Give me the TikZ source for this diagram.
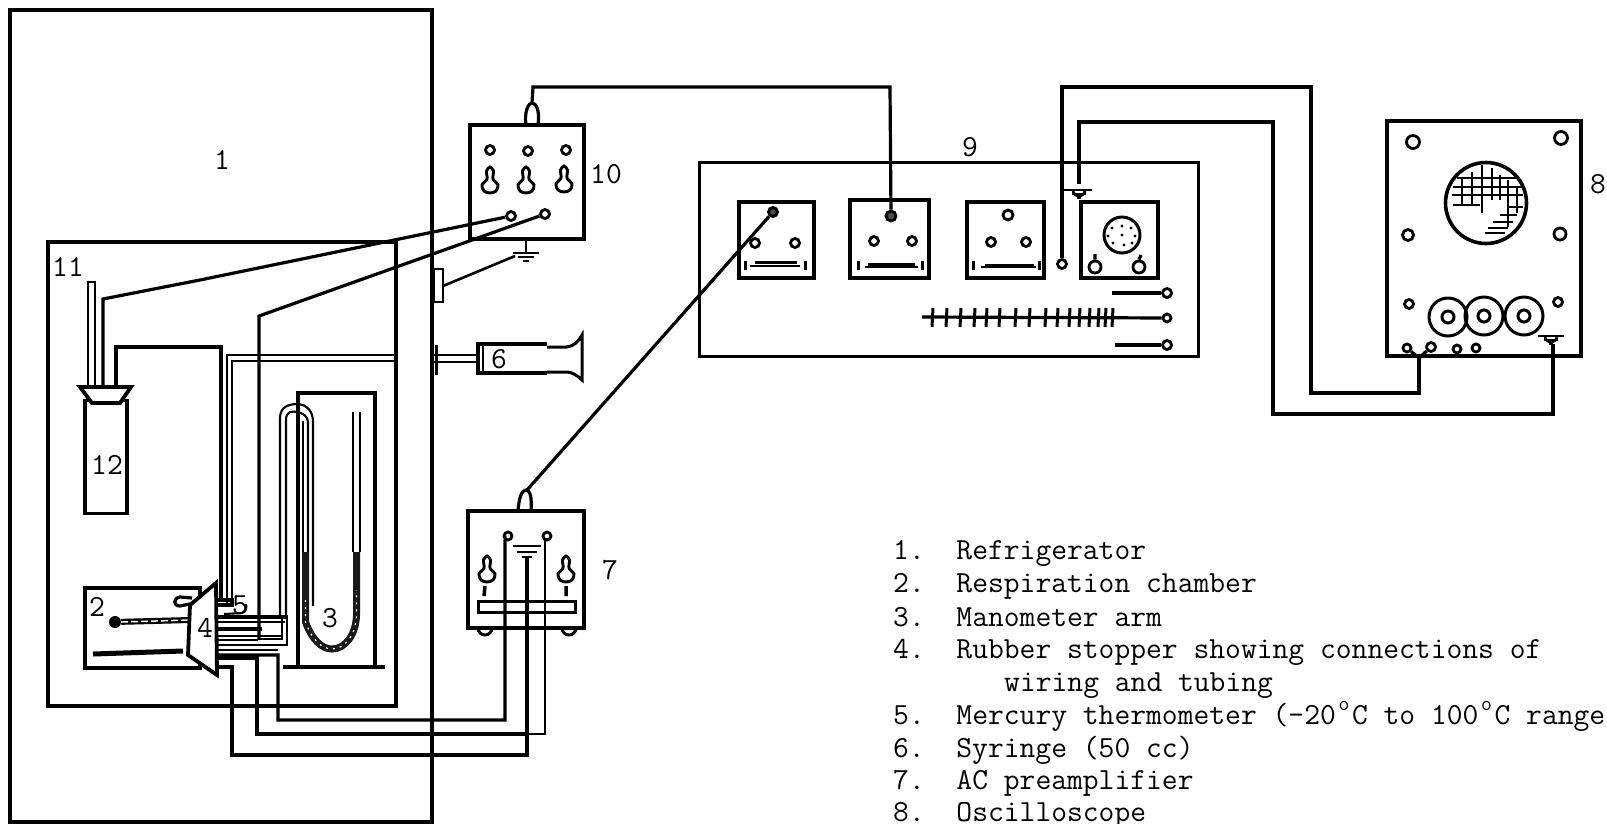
\documentclass[tikz,border=0pt]{standalone}
\usepackage{fontspec}
\newcommand{\typer}{\fontsize{30.7}{33}\selectfont\ttfamily\addfontfeature{FakeBold=1.2}}
\newcommand{\degsign}{\makebox[0.525em]{\raisebox{0.45em}{\fontsize{21}{21}\selectfont o}}}
\tikzset{
  heavy/.style={line width=3.8pt,line join=miter},
  wire/.style={line width=3.2pt,line join=miter},
  thin wire/.style={line width=2.1pt,line join=miter},
  panel/.style={draw,line width=3.6pt,inner sep=0pt,outer sep=0pt},
  term/.style={circle,draw,line width=2.8pt,fill=white,inner sep=0pt,minimum size=9pt},
  lbl/.style={font=\typer,inner sep=0pt},
  itemtext/.style={font=\typer,inner sep=0pt,anchor=base west},
  keyhole/.pic={\draw[line width=2.9pt,fill=white] plot[smooth cycle] coordinates
     {(0,-19)(3.5,-15)(3,-7)(8,-1)(6,5)(0,7)(-6,5)(-8,-1)(-3,-7)(-3.5,-15)};},
  earth/.pic={\draw[line width=2.4pt] (-13,0)--(13,0) (-8,4)--(8,4) (-3,8)--(3,8);},
  domed/.pic={\draw[line width=2.4pt] (-13,0)--(13,0) (-7,4)--(7,4) (-2,8)--(2,8);
     \draw[line width=2.6pt] (-6,0) arc[start angle=180,end angle=0,radius=6];},
  ring/.pic={\draw[line width=3pt] (0,0) circle[radius=19pt]; \draw[line width=3pt] (0,0) circle[radius=6pt];}
}
\begin{document}
\begin{tikzpicture}[x=1pt,y=-1pt]
\useasboundingbox (0,0) rectangle (1607,823);

% ---------- refrigerator and inner compartment
\node[panel,minimum width=422pt,minimum height=812pt] (fridge) at (221,416) {};
\node[panel,minimum width=348pt,minimum height=464pt] (inner) at (222,474) {};

% ---------- panels
\node[panel,minimum width=114pt,minimum height=114pt] (b10) at (527,182) {};
\node[panel,minimum width=116pt,minimum height=117pt] (b7) at (526,569.5) {};
\node[panel,line width=3pt,minimum width=499pt,minimum height=194pt] (b9) at (948.5,259) {};
\node[panel,minimum width=194pt,minimum height=235pt] (b8) at (1484,238.5) {};
\node[panel,minimum width=75pt,minimum height=76pt] (p1) at (776.5,240) {};
\node[panel,minimum width=79pt,minimum height=78pt] (p2) at (889.5,239) {};
\node[panel,minimum width=77pt,minimum height=76pt] (p3) at (1005.5,240) {};
\node[panel,minimum width=77pt,minimum height=76pt] (p4) at (1119.5,240) {};

% ---------- bottle 12, tube 11, funnel
\node[panel,minimum width=42pt,minimum height=113pt] (b12) at (106,457) {};
\coordinate (fun) at (105,387);
\draw[thin wire,line width=2.6pt] (88,387)--(88,282)--(95,282)--(95,387);
\draw[heavy,fill=white] (80,387)--(131,387)--(120,403)--(92,403)--cycle;

% ---------- chamber 2
\node[panel,minimum width=115pt,minimum height=80pt] (b2) at (142.5,628) {};
\node[circle,fill=black,inner sep=0pt,minimum size=12pt] (bulb) at (115,622) {};
\coordinate (thmend) at (190,620);
\draw[line width=6pt] (bulb) -- (thmend);
\draw[white,line width=1.5pt,dash pattern=on 7pt off 3pt] (bulb.east) -- (thmend);
\draw[line width=5pt] (93,654)--(183,651);
\draw[wire] (192,598) -- (180,597) .. controls (173,598) and (173,606) .. (180,606) -- (190,604);

% ---------- manometer frame and U tube
\node[panel,minimum width=77pt,minimum height=274pt] (b3) at (336.5,530) {};
\draw[heavy] (283,667)--(385,667);
\draw[thin wire] (280,617)--(280,418) .. controls (280,406) and (290,404) .. (298,404)
   .. controls (307,405) and (313,411) .. (313,422) -- (313,606);
\draw[thin wire] (286,617)--(286,420) .. controls (286,411) and (292,411) .. (298,412)
   .. controls (302,413) and (308,416) .. (308,422) -- (308,552);
\draw[thin wire] (303,421)--(303,552);
\draw[thin wire] (353,412)--(353,552) (360,412)--(360,552);
\draw[line width=7pt,black!90] (305.5,552)--(305.5,622) .. controls (312,640) and (322,649) .. (332,649)
   .. controls (345,649) and (356,635) .. (356.5,615) -- (356.5,552);
\draw[white,line width=1.2pt,dash pattern=on 2pt off 5pt] (305.5,600)--(305.5,622) .. controls (312,640) and (322,649) .. (332,649)
   .. controls (345,649) and (356,635) .. (356.5,615) -- (356.5,590);

% ---------- tubes and wires around stopper
\draw[wire] (116,387)--(116,347)--(221,347)--(221,600);
\draw[thin wire] (227,603)--(227,355)--(398,355);
\draw[thin wire] (232,603)--(232,361)--(398,361);
\draw[wire] (218,600)--(232,600)--(232,605)--(218,605);
\draw[thin wire] (224,614)--(242,613) .. controls (246,612) and (247,608) .. (246,604);
\draw[line width=3.6pt] (218,617)--(288,617);
\draw[thin wire] (218,622)--(285,622);
\draw[wire] (218,629)--(262,629);
\draw[thin wire] (218,636)--(282,636);
\draw[thin wire] (218,640)--(258,640);
\draw[thin wire] (218,645)--(287,645)--(287,617);
\draw[thin wire] (282,617)--(282,639)--(258,639);
\draw[thin wire] (218,650)--(278,650);

% ---------- terminals on 10
\node[term] (t10a) at (511,216) {};
\node[term] (t10b) at (545,214) {};
\node[term] (t10c) at (490,150) {};
\node[term] (t10d) at (528,151) {};
\node[term] (t10e) at (566,150) {};
\pic at (490,186) {keyhole};
\pic at (526,186) {keyhole};
\pic at (564,185) {keyhole};
\coordinate (g10) at (526,253);
\pic at (g10) {earth};
\draw[thin wire] (b10.south -| g10) -- (g10);
\node[panel,line width=2.4pt,minimum width=9pt,minimum height=33pt] (plug) at (438.5,285.5) {};
\draw[wire,line width=2.6pt] (plug.east |- 0,286) -- (515,256);

% ---------- wires from 10 into the refrigerator
\draw[wire] (t10a) -- (200,280) -- (103,299) -- (103,387);
\draw[wire] (t10b) -- (259,316) -- (259,640);

% ---------- rubber stopper 4
\draw[heavy,fill=white] (190,605)--(216,583)--(217,675)--(188,655)--cycle;

% ---------- syringe 6
\draw[line width=3pt] (436,345)--(436,375);
\draw[thin wire] (433,355)--(477,355) (433,362)--(477,362);
\draw[line width=3pt] (547,347)--(567,347) .. controls (574,346) and (578,342) .. (582,335)--(582,380)
  .. controls (578,376) and (572,372) .. (567,372)--(547,372);
\draw[line width=4pt] (547,344)--(478,344)--(478,373)--(547,373);
\draw[thin wire] (483,345)--(483,372);

% ---------- amplifier 7
\node[term,minimum size=8pt] (t7a) at (508,536) {};
\node[term,minimum size=8pt] (t7b) at (547,536) {};
\coordinate (g7) at (527,546);
\draw[line width=2.4pt] (513,546)--(541,546) (517,552)--(537,552) (522,557)--(532,557);
\pic at (487,575) {keyhole};
\pic at (566,575) {keyhole};
\draw[line width=3.5pt] (485,586)--(484,596) (566,586)--(566,596);
\draw[line width=3pt,fill=white] (478,601) rectangle (575,612);
\draw[line width=3pt] (478,628) arc[start angle=180,end angle=0,radius=7];
\draw[line width=3pt] (562,628) arc[start angle=180,end angle=0,radius=7];
\draw[wire] (518,511) .. controls (519,497) and (522,490) .. (526,490)
   .. controls (530,490) and (532,497) .. (531,511);
% wires between stopper and 7
\draw[wire] (218,655)--(278,655)--(278,720)--(505,720)--(505,540) -- (t7a);
\draw[wire] (218,658)--(257,658)--(257,734)--(528,734);
\draw[thin wire] (528,734)--(545,734)--(545,540);
\draw[thin wire] (545,540) -- (t7b);
\draw[wire] (218,667)--(232,667)--(232,755)--(527,755)--(527,558);

% ---------- 10 to 9
\node[term,fill=black!70,minimum size=10pt] (t9b) at (891,216) {};
\draw[wire] (526,125) .. controls (524,110) and (529,103) .. (532,103)
   .. controls (536,103) and (540,110) .. (538,125);
\draw[wire] (532,103) -- (533,87) -- (890,87) -- (t9b);

% ---------- 7 to 9
\node[term,fill=black!70,minimum size=9pt] (t9a) at (773,212) {};
\draw[wire] (527,490) -- (t9a);

% ---------- panel contents of 9
\node[term] (p1l) at (755,243) {};
\node[term] (p1r) at (795,243) {};
\node[term] (p2l) at (874,241) {};
\node[term] (p2r) at (912,241) {};
\node[term,minimum size=10pt] (p3t) at (1008,215) {};
\node[term] (p3l) at (991,242) {};
\node[term] (p3r) at (1026,242) {};
\draw[line width=3pt] (755,262)--(797,262);
\draw[thin wire] (750,266)--(800,266);
\draw[line width=3pt] (868,264)--(915,264);
\draw[thin wire] (865,267)--(918,267);
\draw[line width=3pt] (985,265)--(1034,265);
\draw[thin wire] (981,267)--(1036,267);
\foreach \x in {745,805,858,922,973,1039} {\draw[line width=3pt] (\x,261)--(\x,270);}
\node[circle,draw,line width=3pt,inner sep=0pt,minimum size=36pt] (scope9) at (1122,235) {};
\foreach \a/\b in {1122/226,1112/228,1131/228,1108/236,1122/235,1135/236,1113/243,1124/245,1132/243} {\fill (\a,\b) circle[radius=1.7pt];}
\node[term,minimum size=12pt] (k1) at (1095,267) {};
\node[term,minimum size=12pt] (k2) at (1139,267) {};
\draw[wire] (k1.north)--(1095,254) (k2.north)--(1141,255);

% ---------- resistor ladder and switches of 9
\node[term] (s1) at (1167,293) {};
\node[term,minimum size=8pt] (s2) at (1167,318) {};
\node[term] (s3) at (1167,345) {};
\coordinate (s1a) at (1112,293);
\coordinate (s2a) at (922,317);
\coordinate (s3a) at (1115,345);
\draw[wire] (s1a)--(s1);
\draw[wire] (s2a)--(s2);
\draw[line width=3.6pt] (s3a)--(s3);
\foreach \x in {933,947,961,975,987,1000,1016,1030,1046,1058,1070,1080,1090,1099,1106,1113} {\draw[line width=3pt] (\x,308)--(\x-1,327);}

% ---------- 9 to oscilloscope
\node[term] (t9c) at (1062,264) {};
\node[term,minimum size=8pt] (o1) at (1407,348) {};
\node[term,minimum size=9pt] (o2) at (1431,347) {};
\node[term,minimum size=8pt] (o3) at (1457,349) {};
\node[term,minimum size=8pt] (o4) at (1476,348) {};
\coordinate (fork) at (1419,358);
\draw[wire,line width=4pt] (t9c)--(1062,87)--(1311,87)--(1311,393)--(1419,393)--(fork);
\draw[wire] (o1)--(fork)--(o2);
\coordinate (g9) at (1079,190);
\pic at (g9) {domed};
\draw[thin wire] (1062,190)--(1066,190);
\draw[wire,line width=3.6pt] (g9)+(0,-6)--(1079,122)--(1273,122)--(1273,414)--(1553,414)--(1553,344);
\coordinate (g8) at (1551,336);
\pic at (g8) {domed};

% ---------- oscilloscope contents
\node[term,minimum size=13pt] (c1) at (1413,142) {};
\node[term,minimum size=13pt] (c2) at (1561,138) {};
\node[term,minimum size=11pt] (c3) at (1408,235) {};
\node[term,minimum size=12pt] (c4) at (1560,234) {};
\node[term,minimum size=9pt] (c5) at (1409,304) {};
\node[term,minimum size=9pt] (c6) at (1558,302) {};
\node[circle,draw,line width=3.6pt,inner sep=0pt,minimum size=81pt] (screen) at (1486,203) {};
\pic at (1448,317) {ring};
\pic at (1484,316) {ring};
\pic at (1524,316) {ring};
\begin{scope}[x=0.3333pt,y=-0.3333pt,shift={(1360pt,-100pt)},line width=1.7pt]
\foreach \y/\a/\b in {235/290/470,260/280/490,285/275/490,315/280/360,320/440/490,345/420/470,365/400/460,385/385/445,400/375/435}
  {\draw (\a,\y)--(\b,\y);}
\foreach \x/\a/\b in {305/235/315,335/215/315,365/195/340,395/205/300,420/225/300,445/240/380,470/260/340}
  {\draw (\x,\a)--(\x,\b);}
\end{scope}

% ---------- labels
\node[lbl] (n1) at (222,160) {1};
\node[lbl] (n2) at (97,607) {2};
\node[lbl] (n3) at (330,618) {3};
\node[lbl] (n4) at (205,628) {4};
\node[lbl] (n5) at (240,605) {5};
\node[lbl] (n6) at (499,359) {6};
\node[lbl] (n7) at (610,570) {7};
\node[lbl] (n8) at (1598,184) {8};
\node[lbl] (n9) at (970,147) {9};
\node[lbl] (n10) at (606,174) {10};
\node[lbl] (n11) at (68,267) {11};
\node[lbl] (n12) at (107,465) {12};

% ---------- key
\node[itemtext] (i1) at (893,559) {1.~~Refrigerator};
\node[itemtext] (i2) at (893,592) {2.~~Respiration chamber};
\node[itemtext] (i3) at (893,626) {3.~~Manometer arm};
\node[itemtext] (i4) at (893,658) {4.~~Rubber stopper showing connections of};
\node[itemtext] (i4b) at (1004,691) {wiring and tubing};
\node[itemtext] (i5) at (893,724) {5.~~Mercury thermometer (-20\degsign C to 100\degsign C range};
\node[itemtext] (i6) at (893,757) {6.~~Syringe (50 cc)};
\node[itemtext] (i7) at (893,789) {7.~~AC preamplifier};
\node[itemtext] (i8) at (893,821) {8.~~Oscilloscope};
\end{tikzpicture}
\end{document}
